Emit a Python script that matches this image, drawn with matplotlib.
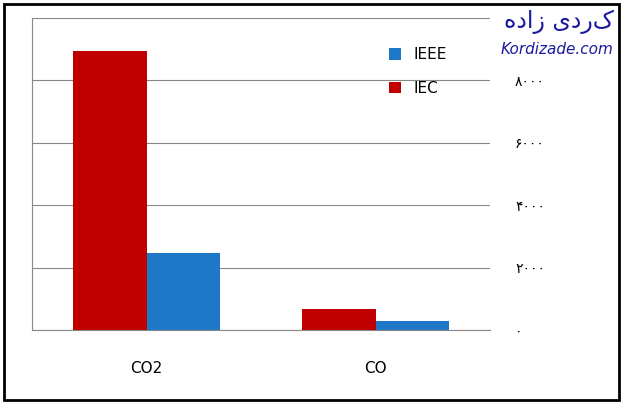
import matplotlib.pyplot as plt
import numpy as np
from matplotlib.patches import Rectangle

categories = ["CO2", "CO"]
iec = [8950, 680]
ieee = [2470, 290]
ticks = [0, 2000, 4000, 6000, 8000]
tick_labels = ["۰", "۲۰۰۰", "۴۰۰۰", "۶۰۰۰", "۸۰۰۰"]

fig = plt.figure(figsize=(6.23, 4.04), dpi=100)
ax = fig.add_axes([32 / 623, 74 / 404, 458 / 623, 312 / 404])

x = np.arange(len(categories))
w = 0.32
ax.bar(x - w / 2, iec, w, color="#c00000", label="IEC", zorder=3)
ax.bar(x + w / 2, ieee, w, color="#1f77c8", label="IEEE", zorder=3)

ax.set_xlim(-0.5, 1.5)
ax.set_ylim(0, 10000)
ax.set_yticks(ticks + [10000])
ax.set_yticklabels(tick_labels + [""])
ax.yaxis.tick_right()
ax.tick_params(axis="y", length=0, pad=18, labelsize=10)
ax.set_xticks(x)
ax.set_xticklabels(categories, fontsize=11)
ax.tick_params(axis="x", length=0, pad=22)
ax.grid(axis="y", color="#888888", linewidth=0.8, zorder=0)
for s in ["top", "right"]:
    ax.spines[s].set_visible(False)
ax.spines["left"].set_color("#888888")
ax.spines["bottom"].set_color("#888888")

h, l = ax.get_legend_handles_labels()
ax.legend(h[::-1], l[::-1], loc="upper left", bbox_to_anchor=(0.75, 0.95),
          frameon=False, fontsize=11, handlelength=0.8, handleheight=0.8,
          labelspacing=1.2)

fig.patches.append(Rectangle((4 / 623, 4 / 404), 615 / 623, 396 / 404,
                             transform=fig.transFigure, fill=False,
                             edgecolor="black", linewidth=2))
fig.text(0.985, 0.975, "هداز یدرک", ha="right", va="top", fontsize=17,
         color="#1a1aa0")
fig.text(0.985, 0.895, "Kordizade.com", ha="right", va="top", fontsize=11,
         style="italic", color="#1a1aa0")

fig.savefig("out.png", dpi=100)
